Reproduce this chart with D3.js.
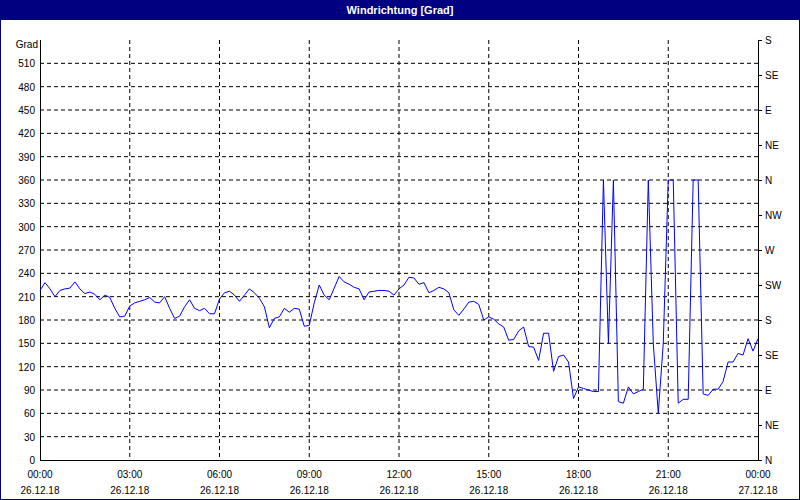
<!DOCTYPE html>
<html><head><meta charset="utf-8">
<script src="https://cdn.jsdelivr.net/npm/d3@7"></script>
<style>
body{margin:0;background:#fff}
svg{display:block;font-family:"Liberation Sans",Arial,sans-serif}
</style></head><body>
<svg id="c" width="800" height="500"></svg>
<script>
// wind direction, one value per 10 minutes, 26.12.18 00:00 .. 27.12.18 00:00
const dirValues = [218,228,220,210,218,220,221,229,220,214,216,213,206,212,209,195,184,185,198,202,
  204,206,209,203,202,210,195,182,185,197,206,195,192,195,188,188,207,215,217,212,
  204,212,220,215,208,197,170,182,184,195,190,195,194,172,173,202,225,212,206,221,
  236,229,226,222,220,206,216,217,218,218,217,212,220,225,235,234,226,228,215,218,
  222,220,215,193,186,194,203,204,200,180,184,181,175,171,154,155,166,171,146,145,
  128,163,163,114,133,135,126,79,94,92,90,88,88,360,150,360,75,73,94,85,88,91,
  360,150,60,150,360,360,73,78,78,360,360,85,83,91,91,101,126,126,
  137,135,156,140,156];
const yTicks = d3.range(0, 511, 30);
const compassLabels = ["N","NE","E","SE","S","SW","W","NW","N","NE","E","SE","S"];
const timeLabels = ["00:00","03:00","06:00","09:00","12:00","15:00","18:00","21:00","00:00"];
const dateLabels = ["26.12.18","26.12.18","26.12.18","26.12.18","26.12.18","26.12.18","26.12.18","26.12.18","27.12.18"];

const svg = d3.select('#c');
const L = 40, R = 758, T = 40, B = 460;
const x = d3.scaleLinear().domain([0, 144]).range([L, R]);
const y = d3.scaleLinear().domain([0, 540]).range([B, T]);

svg.append('rect').attr('width', 800).attr('height', 500).attr('fill', '#fff')
  .attr('stroke', '#000080').attr('stroke-width', 2);
svg.append('rect').attr('width', 800).attr('height', 20).attr('fill', '#000080');
svg.append('text').attr('x', 400).attr('y', 14).attr('text-anchor', 'middle')
  .attr('fill', '#fff').attr('font-weight', 'bold').attr('font-size', 11).text('Windrichtung [Grad]');

const grid = svg.append('g').attr('stroke', '#000').attr('stroke-dasharray', '4,3');
grid.selectAll('.h').data(yTicks.slice(1)).enter().append('line')
  .attr('x1', L).attr('x2', R).attr('y1', d => y(d)).attr('y2', d => y(d));
grid.selectAll('.v').data(d3.range(1, 8)).enter().append('line')
  .attr('y1', T).attr('y2', B).attr('x1', d => x(d * 18)).attr('x2', d => x(d * 18));

const ax = svg.append('g').attr('stroke', '#000').attr('shape-rendering', 'crispEdges');
ax.append('line').attr('x1', L).attr('x2', L).attr('y1', T).attr('y2', B);
ax.append('line').attr('x1', R).attr('x2', R).attr('y1', T).attr('y2', B);
ax.append('line').attr('x1', L).attr('x2', R).attr('y1', B).attr('y2', B);
ax.selectAll('.rt').data(compassLabels).enter().append('line')
  .attr('x1', R).attr('x2', R + 4).attr('y1', (d, i) => y(i * 45)).attr('y2', (d, i) => y(i * 45));

const txt = svg.append('g').attr('font-size', 10).attr('fill', '#000');
txt.selectAll('.yl').data(yTicks).enter().append('text')
  .attr('x', 35).attr('y', d => y(d) + 4).attr('text-anchor', 'end').text(d => d);
txt.append('text').attr('x', 38).attr('y', 48).attr('text-anchor', 'end').text('Grad');
txt.selectAll('.rl').data(compassLabels).enter().append('text')
  .attr('x', 765).attr('y', (d, i) => y(i * 45) + 4).text(d => d);
txt.selectAll('.tl').data(timeLabels).enter().append('text')
  .attr('x', (d, i) => x(i * 18)).attr('y', 478).attr('text-anchor', 'middle').text(d => d);
txt.selectAll('.dl').data(dateLabels).enter().append('text')
  .attr('x', (d, i) => x(i * 18)).attr('y', 494).attr('text-anchor', 'middle').text(d => d);

svg.append('path').datum(dirValues)
  .attr('fill', 'none').attr('stroke', '#0000ff').attr('stroke-width', 1)
  .attr('d', d3.line().x((d, i) => x(i)).y(d => y(d)));
</script></body></html>
